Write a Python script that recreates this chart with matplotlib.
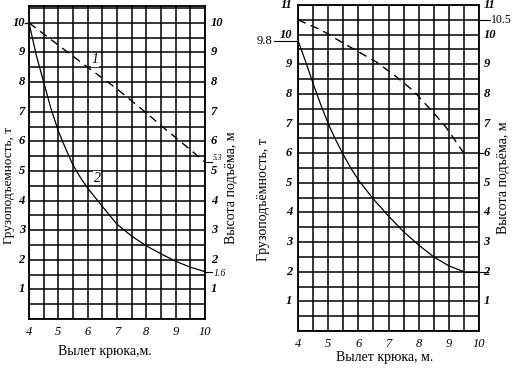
import numpy as np
import matplotlib
matplotlib.use("Agg")
import matplotlib.pyplot as plt

plt.rcParams['font.family'] = ['Liberation Serif', 'DejaVu Serif']

# left chart: reach (m) vs load (t) / lift height (m)
left_height_x = [4, 5, 6, 7, 8, 8.6, 9.4, 10]
left_height_y = [10, 9.25, 8.5, 7.77, 6.96, 6.45, 5.8, 5.3]
left_load_x = [4, 4.25, 4.5, 4.75, 5, 5.25, 5.5, 5.75, 6, 6.5, 7, 7.5, 8, 8.5, 9, 9.5, 10]
left_load_y = [10, 8.9, 8.0, 7.1, 6.35, 5.75, 5.2, 4.78, 4.42, 3.8, 3.2, 2.8, 2.47, 2.2, 1.95, 1.75, 1.6]

# right chart
right_height_x = [4, 4.78, 5.44, 6.61, 7.22, 7.83, 8.44, 8.89, 9.5]
right_height_y = [10.5, 10.15, 9.75, 9.07, 8.61, 8.1, 7.42, 6.9, 6.0]
right_load_x = [4, 4.25, 4.5, 4.75, 5, 5.25, 5.5, 5.75, 6, 6.5, 7, 7.5, 8, 8.5, 9, 9.5]
right_load_y = [9.8, 9.1, 8.35, 7.65, 7.0, 6.45, 5.95, 5.5, 5.1, 4.45, 3.88, 3.35, 2.9, 2.5, 2.2, 2.0]

x_ticks = [4, 5, 6, 7, 8, 9, 10]
left_yticks = list(range(1, 11))
right_yticks = list(range(1, 12))

ylabel_load = 'Грузоподъемность, т'
ylabel_load2 = 'Грузоподъёмность, т'
ylabel_height = 'Высота подъёма, м'

W, H = 513, 368
fig = plt.figure(figsize=(W / 100, H / 100), dpi=100)


def px_axes(x0, y0, x1, y1):
    return fig.add_axes([x0 / W, 1 - y1 / H, (x1 - x0) / W, (y1 - y0) / H])


def setup(ax, ytop):
    ax.set_xlim(4, 10)
    ax.set_ylim(0, ytop)
    ax.set_xticks(np.arange(4, 10.01, 0.5))
    ax.set_yticks(np.arange(0, ytop + 0.01, 0.5))
    ax.grid(True, color='black', linewidth=1.1)
    ax.set_xticklabels([])
    ax.set_yticklabels([])
    ax.tick_params(length=0)
    for s in ax.spines.values():
        s.set_linewidth(1.3)
    for v in x_ticks:
        ax.text(v, -0.25, str(v), ha='center', va='top', fontsize=9, style='italic')


tick_kw = dict(fontsize=9, style='italic', fontweight='bold')
line_kw = dict(color='black', linewidth=0.8, clip_on=False)

# ---- left chart ----
ax1 = px_axes(29, 6, 205, 319)
setup(ax1, 10.57)
ax1.plot(left_height_x, left_height_y, color='black', linewidth=1.0, dashes=(6, 4))
ax1.plot(left_load_x, left_load_y, color='black', linewidth=0.9)
for v in left_yticks:
    ax1.text(3.86, v, str(v), ha='right', va='center', **tick_kw)
    ax1.text(10.2, v, str(v), ha='left', va='center', **tick_kw)
ax1.plot([3.88, 4.0], [10, 10], color='black', linewidth=1, clip_on=False)
ax1.plot([10.0, 10.25], [5.3, 5.3], **line_kw)
ax1.plot([10.0, 10.25], [1.6, 1.6], **line_kw)
ax1.text(10.27, 5.45, '5.3', ha='left', va='center', fontsize=5.5, style='italic')
ax1.text(10.28, 1.55, '1.6', ha='left', va='center', fontsize=7, style='italic')
ax1.text(6.25, 8.75, '1', ha='center', va='center', fontsize=10, style='italic',
         bbox=dict(facecolor='white', edgecolor='none', pad=0.5))
ax1.text(6.32, 4.76, '2', ha='center', va='center', fontsize=10, style='italic',
         bbox=dict(facecolor='white', edgecolor='none', pad=0.5))
fig.text(105 / W, 1 - 352 / H, 'Вылет крюка,м.', ha='center', va='center', fontsize=10)
fig.text(9 / W, 1 - 185 / H, ylabel_load, rotation=90, ha='center', va='center', fontsize=9.5)
fig.text(231 / W, 1 - 188 / H, ylabel_height, rotation=90, ha='center', va='center', fontsize=10)

# ---- right chart ----
ax2 = px_axes(298, 5, 479, 331)
setup(ax2, 11)
ax2.plot(right_height_x, right_height_y, color='black', linewidth=1.0, dashes=(6, 4))
ax2.plot(right_load_x, right_load_y, color='black', linewidth=0.9)
for v in right_yticks:
    ax2.text(3.8, v, str(v), ha='right', va='center', **tick_kw)
    ax2.text(10.15, v, str(v), ha='left', va='center', **tick_kw)
ax2.plot([3.2, 4.0], [9.8, 9.8], **line_kw)
ax2.text(3.15, 9.8, '9.8', ha='right', va='center', fontsize=9)
ax2.plot([10.0, 10.35], [10.5, 10.5], **line_kw)
ax2.text(10.38, 10.5, '10.5', ha='left', va='center', fontsize=8.5)
ax2.plot([9.5, 10.3], [2.0, 2.0], **line_kw)
ax2.plot([10.0, 10.12], [6.0, 6.0], **line_kw)
fig.text(385 / W, 1 - 358 / H, 'Вылет крюка, м.', ha='center', va='center', fontsize=10)
fig.text(263 / W, 1 - 200 / H, ylabel_load2, rotation=90, ha='center', va='center', fontsize=10)
fig.text(503 / W, 1 - 178 / H, ylabel_height, rotation=90, ha='center', va='center', fontsize=10)

fig.savefig('out.png', dpi=100)
